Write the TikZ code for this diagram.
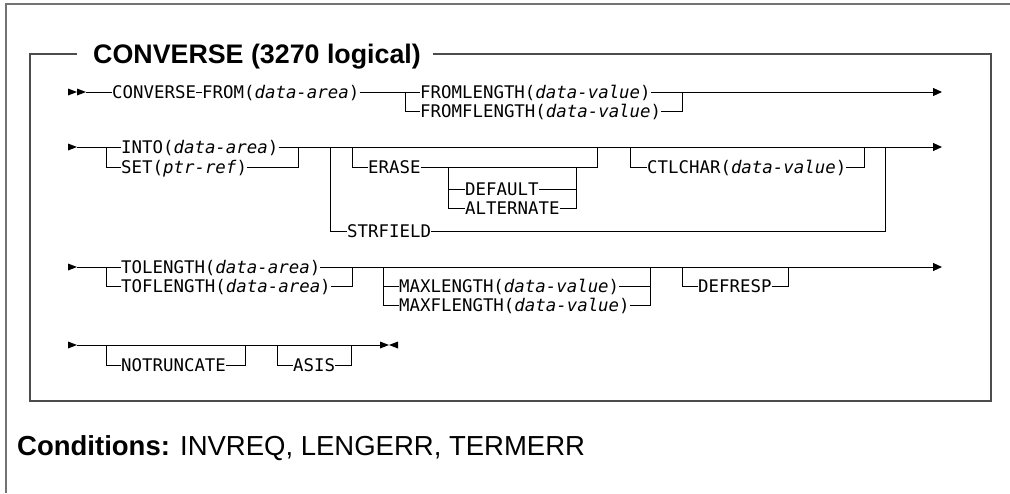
\documentclass[tikz,border=0pt]{standalone}
\usepackage{fontspec}
\setmainfont{Liberation Sans}
\newfontfamily\monofnt[Scale=1.74]{DejaVu Sans Mono}
\usetikzlibrary{arrows.meta}
\begin{document}
\begin{tikzpicture}[x=1pt,y=-1pt,
  kw/.style={font=\monofnt, inner sep=0pt, anchor=west, text height=14pt, text depth=2pt},
  rail/.style={line width=1pt, black},
  endarrow/.style={rail, -{Triangle[length=9pt,width=8pt]}},
  boxline/.style={line width=1.5pt, black!70},
  frameline/.style={line width=1.5pt, black!55},
  titletext/.style={font=\bfseries\fontsize{26.8}{31}\selectfont, anchor=west, inner sep=0pt, text height=25pt, text depth=5.7pt},
  condtext/.style={font=\fontsize{27.5}{32}\selectfont, anchor=base west, inner sep=0pt},
  tip/.style={fill=black}
]
\useasboundingbox (0,0) rectangle (1010,493);
% outer frame
\coordinate (fbl) at (6,493);
\coordinate (ftl) at (6,4);
\coordinate (ftr) at (1010,4);
\draw[frameline] (fbl) -- (ftl) -- (ftr);
% title and box
\node[titletext] (title) at (93,54) {CONVERSE (3270 logical)};
\coordinate (ttl) at (77,54);
\coordinate (ttr) at (433,54);
\coordinate (bxtl) at (30,54);
\coordinate (bxbl) at (30,401);
\coordinate (bxbr) at (991,401);
\coordinate (bxtr) at (991,54);
\draw[boxline] (ttl) -- (bxtl) -- (bxbl) -- (bxbr) -- (bxtr) -- (ttr);

% ---------------- Row 1 ----------------
\fill[tip] (68,88.5) -- (77,92) -- (68,95.5) -- cycle;
\fill[tip] (77,88.5) -- (86,92) -- (77,95.5) -- cycle;
\coordinate (s1) at (86,92);
\node[kw] (conv) at (112,92) {CONVERSE};
\node[kw] (from) at (202,92) {FROM(\textit{data-area})};
\coordinate (b1) at (405,92);
\node[kw] (fl) at (420,92) {FROMLENGTH(\textit{data-value})};
\node[kw] (ffl) at (420,111) {FROMFLENGTH(\textit{data-value})};
\coordinate (j1) at (682,92);
\coordinate (e1) at (942,92);
\draw[rail] (s1) -- (conv.west);
\draw[rail] (conv.east) -- (from.west);
\draw[rail] (from.east) -- (fl.west);
\draw[rail] (b1) |- (ffl.west);
\draw[rail] (ffl.east) -| (j1);
\draw[endarrow] (fl.east) -- (e1);

% ---------------- Row 2 ----------------
\fill[tip] (68,143.5) -- (77,147) -- (68,150.5) -- cycle;
\coordinate (s2) at (77,147);
\coordinate (b2) at (106,147);
\node[kw] (into) at (121,147) {INTO(\textit{data-area})};
\node[kw] (set) at (121,167) {SET(\textit{ptr-ref})};
\coordinate (j2) at (298,147);
\coordinate (b2s) at (330,147);
\node[kw] (strf) at (347,231) {STRFIELD};
\coordinate (j2s) at (885,147);
\coordinate (b2e) at (352,147);
\node[kw] (erase) at (368,167) {ERASE};
\coordinate (j2e) at (597,147);
\coordinate (b2d) at (448,167);
\node[kw] (dflt) at (465,189) {DEFAULT};
\node[kw] (alt) at (465,208) {ALTERNATE};
\coordinate (j2d) at (576,167);
\coordinate (b2c) at (630,147);
\node[kw] (ctl) at (647,167) {CTLCHAR(\textit{data-value})};
\coordinate (j2c) at (864,147);
\coordinate (e2) at (942,147);
\draw[rail] (s2) -- (into.west);
\draw[rail] (b2) |- (set.west);
\draw[rail] (set.east) -| (j2);
\draw[endarrow] (into.east) -- (e2);
\draw[rail] (b2s) |- (strf.west);
\draw[rail] (strf.east) -| (j2s);
\draw[rail] (b2e) |- (erase.west);
\draw[rail] (erase.east) -| (j2e);
\draw[rail] (b2d) |- (dflt.west);
\draw[rail] (b2d) |- (alt.west);
\draw[rail] (dflt.east) -| (j2d);
\draw[rail] (alt.east) -| (j2d);
\draw[rail] (b2c) |- (ctl.west);
\draw[rail] (ctl.east) -| (j2c);

% ---------------- Row 3 ----------------
\fill[tip] (68,263.5) -- (77,267) -- (68,270.5) -- cycle;
\coordinate (s3) at (77,267);
\coordinate (b3) at (106,267);
\node[kw] (tol) at (121,267) {TOLENGTH(\textit{data-area})};
\node[kw] (tofl) at (121,286) {TOFLENGTH(\textit{data-area})};
\coordinate (j3) at (352,267);
\coordinate (b3m) at (383,267);
\node[kw] (maxl) at (399,286) {MAXLENGTH(\textit{data-value})};
\node[kw] (maxfl) at (399,305) {MAXFLENGTH(\textit{data-value})};
\coordinate (j3m) at (650,267);
\coordinate (b3d) at (682,267);
\node[kw] (defr) at (698,286) {DEFRESP};
\coordinate (j3d) at (788,267);
\coordinate (e3) at (942,267);
\draw[rail] (s3) -- (tol.west);
\draw[rail] (b3) |- (tofl.west);
\draw[rail] (tofl.east) -| (j3);
\draw[endarrow] (tol.east) -- (e3);
\draw[rail] (b3m) |- (maxl.west);
\draw[rail] (b3m) |- (maxfl.west);
\draw[rail] (maxl.east) -| (j3m);
\draw[rail] (maxfl.east) -| (j3m);
\draw[rail] (b3d) |- (defr.west);
\draw[rail] (defr.east) -| (j3d);

% ---------------- Row 4 ----------------
\fill[tip] (68,341.5) -- (77,345) -- (68,348.5) -- cycle;
\coordinate (s4) at (77,345);
\coordinate (e4) at (380,345);
\coordinate (b4n) at (106,345);
\node[kw] (notr) at (121,365) {NOTRUNCATE};
\coordinate (j4n) at (245,345);
\coordinate (b4a) at (277,345);
\node[kw] (asis) at (293,365) {ASIS};
\coordinate (j4a) at (351,345);
\draw[rail] (s4) -- (e4);
\draw[rail] (b4n) |- (notr.west);
\draw[rail] (notr.east) -| (j4n);
\draw[rail] (b4a) |- (asis.west);
\draw[rail] (asis.east) -| (j4a);
\fill[tip] (380,341.5) -- (389,345) -- (380,348.5) -- cycle;
\fill[tip] (398,341.5) -- (389,345) -- (398,348.5) -- cycle;

% ---------------- Conditions ----------------
\node[condtext] (cond) at (17,455) {\textbf{Conditions:} INVREQ, LENGERR, TERMERR};
\end{tikzpicture}
\end{document}
